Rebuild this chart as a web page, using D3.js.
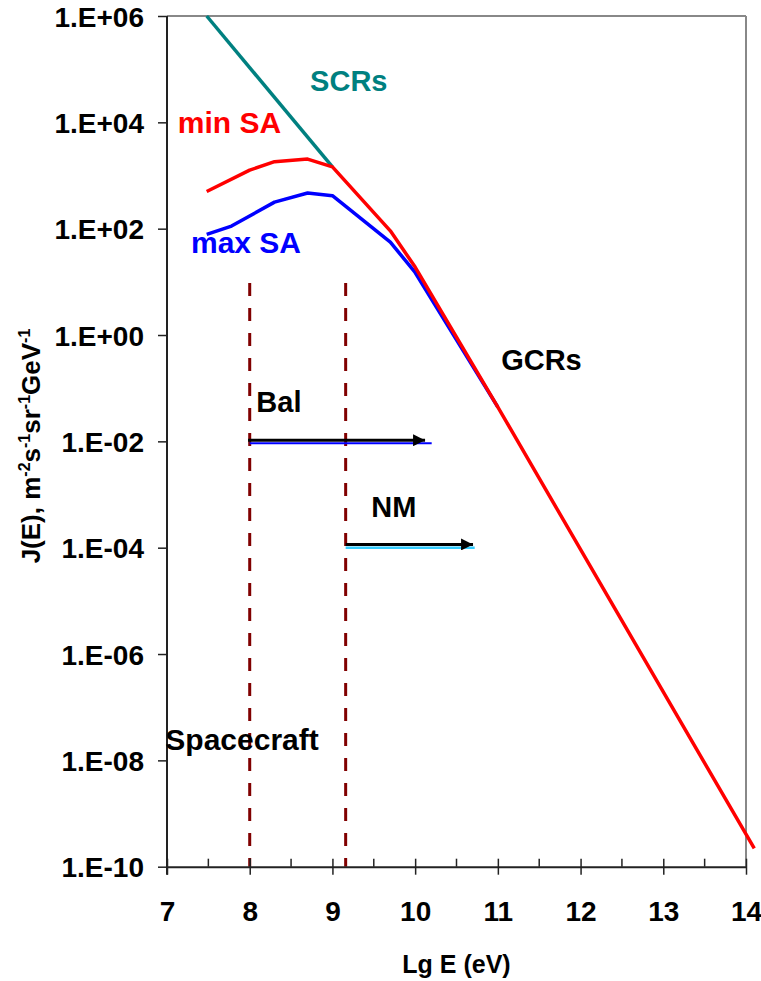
<!DOCTYPE html>
<html><head><meta charset="utf-8">
<script src="https://cdn.jsdelivr.net/npm/d3@7"></script>
<style>
html,body{margin:0;padding:0;background:#fff;}
svg text{font-family:"Liberation Sans",Arial,sans-serif;font-weight:bold;}
</style></head>
<body><svg id="c" width="761" height="981"></svg>
<script>
// ---- data ----
const scrX = [7.48, 9.0];
const scrY = [1e6, 1.45e3];
const minSAX = [7.48, 8.0, 8.3, 8.7, 9.0, 9.7, 10.0, 11.0, 14.1];
const minSAY = [5.0e2, 1.26e3, 1.82e3, 2.04e3, 1.45e3, 91, 19, 4.4e-2, 2.2e-10];
const maxSAX = [7.48, 7.78, 8.3, 8.7, 9.0, 9.7, 10.0, 11.0];
const maxSAY = [78, 112, 316, 468, 417, 56, 15, 4.4e-2];
const balX = [7.98, 10.12];   // Bal arrow
const balY = 1.05e-2;
const balLineX = [8.0, 10.2];
const balLineY = 9.2e-3;
const nmX = [9.16, 10.7];     // NM arrow
const nmY = 1.15e-4;
const nmLineX = [9.16, 10.72];
const nmLineY = 1.0e-4;
const cutoffX = [8.0, 9.16];  // dashed verticals
const cutoffTop = 9.5;
const xTicks = [7, 8, 9, 10, 11, 12, 13, 14];
const xMinor = [7.5, 8.5, 9.5, 10.5, 11.5, 12.5, 13.5];
const yTicks = [1e6, 1e4, 1e2, 1e0, 1e-2, 1e-4, 1e-6, 1e-8, 1e-10];
const yTickLabels = ["1.E+06","1.E+04","1.E+02","1.E+00","1.E-02","1.E-04","1.E-06","1.E-08","1.E-10"];
const labels = [
  {t:"SCRs", x:8.73, y:Math.pow(10,4.58), c:"#008080", s:29},
  {t:"min SA", x:7.13, y:Math.pow(10,3.80), c:"#ff0000", s:30},
  {t:"max SA", x:7.29, y:Math.pow(10,1.54), c:"#0000ff", s:30},
  {t:"Bal", x:8.08, y:Math.pow(10,-1.44), c:"#000", s:29},
  {t:"NM", x:9.47, y:Math.pow(10,-3.42), c:"#000", s:29},
  {t:"GCRs", x:11.04, y:Math.pow(10,-0.66), c:"#000", s:29},
  {t:"Spacecraft", x:6.98, y:Math.pow(10,-7.80), c:"#000", s:30}
];

// ---- chart ----
const svg = d3.select("#c");
const L = 167, R = 746, T = 16, B = 866.7;
const x = d3.scaleLinear().domain([7, 14]).range([L, R]);
const y = d3.scaleLog().domain([1e-10, 1e6]).range([B, T]);

// frame top/right
svg.append("line").attr("x1",L).attr("x2",R).attr("y1",T).attr("y2",T).attr("stroke","#888").attr("stroke-width",2);
svg.append("line").attr("x1",R).attr("x2",R).attr("y1",T).attr("y2",B).attr("stroke","#888").attr("stroke-width",2);

// dashed cutoffs
svg.selectAll(".cut").data(cutoffX).enter().append("line")
  .attr("x1",d=>x(d)).attr("x2",d=>x(d)).attr("y1",y(cutoffTop)).attr("y2",B)
  .attr("stroke","#800000").attr("stroke-width",3).attr("stroke-dasharray","13,12");

// axes
const yAxis = d3.axisLeft(y).tickValues(yTicks).tickSize(9).tickPadding(14)
  .tickFormat((d,i)=>yTickLabels[i]);
const gy = svg.append("g").attr("transform",`translate(${L},0)`).call(yAxis);
gy.select(".domain").attr("stroke","#222").attr("stroke-width",2).attr("d",`M0,${T}V${B+8}`);
gy.selectAll(".tick line").attr("stroke","#222").attr("stroke-width",1.5);
gy.selectAll(".tick text").attr("font-size",28).attr("fill","#000").attr("dy","0.36em")
  .style("font-family","'Liberation Sans',Arial,sans-serif").style("font-weight","bold");

const xAxis = d3.axisBottom(x).tickValues(xTicks).tickFormat(d3.format("d"))
  .tickSizeInner(8).tickSizeOuter(0).tickPadding(26);
const gx = svg.append("g").attr("transform",`translate(0,${B})`).call(xAxis);
gx.select(".domain").attr("stroke","#222").attr("stroke-width",2);
gx.selectAll(".tick line").attr("y1",-8).attr("stroke","#222").attr("stroke-width",1.5);
gx.selectAll(".tick text").attr("font-size",28).attr("fill","#000")
  .style("font-family","'Liberation Sans',Arial,sans-serif").style("font-weight","bold");
gx.selectAll(".minor").data(xMinor).enter().append("line").attr("class","minor")
  .attr("x1",d=>x(d)).attr("x2",d=>x(d)).attr("y1",-8).attr("y2",0)
  .attr("stroke","#222").attr("stroke-width",1.5);

// axis titles
svg.append("text").attr("x",(L+R)/2 - 0).attr("y",973).attr("text-anchor","middle")
  .attr("font-size",25).text("Lg E (eV)");
const yt = svg.append("text").attr("transform","translate(40,446) rotate(-90)")
  .attr("text-anchor","middle").attr("font-size",26);
yt.append("tspan").text("J(E), m");
yt.append("tspan").attr("font-size",16).attr("dy",-10).text("-2");
yt.append("tspan").attr("dy",10).text("s");
yt.append("tspan").attr("font-size",16).attr("dy",-10).text("-1");
yt.append("tspan").attr("dy",10).text("sr");
yt.append("tspan").attr("font-size",16).attr("dy",-10).text("-1");
yt.append("tspan").attr("dy",10).text("GeV");
yt.append("tspan").attr("font-size",16).attr("dy",-10).text("-1");

// series
const line = d3.line().x(d=>x(d[0])).y(d=>y(d[1]));
svg.append("path").datum(d3.zip(scrX,scrY)).attr("d",line)
  .attr("fill","none").attr("stroke","#008080").attr("stroke-width",3.5);
svg.append("path").datum(d3.zip(maxSAX,maxSAY)).attr("d",line)
  .attr("fill","none").attr("stroke","#0000ff").attr("stroke-width",3.5).attr("stroke-linejoin","round");
svg.append("path").datum(d3.zip(minSAX,minSAY)).attr("d",line)
  .attr("fill","none").attr("stroke","#ff0000").attr("stroke-width",3.5).attr("stroke-linejoin","round");

// range lines and arrows
svg.append("line").attr("x1",x(balLineX[0])).attr("x2",x(balLineX[1])).attr("y1",y(balLineY)).attr("y2",y(balLineY))
  .attr("stroke","#0000ff").attr("stroke-width",2);
svg.append("line").attr("x1",x(nmLineX[0])).attr("x2",x(nmLineX[1])).attr("y1",y(nmLineY)).attr("y2",y(nmLineY))
  .attr("stroke","#33ccff").attr("stroke-width",2.5);
const defs = svg.append("defs");
defs.append("marker").attr("id","ah").attr("viewBox","0 0 10 10").attr("refX",10).attr("refY",5)
  .attr("markerWidth",4.2).attr("markerHeight",4).attr("markerUnits","strokeWidth").attr("orient","auto")
  .append("path").attr("d","M0,0L10,5L0,10Z").attr("fill","#000");
[[balX,balY],[nmX,nmY]].forEach(([xs,v])=>{
  svg.append("line").attr("x1",x(xs[0])).attr("x2",x(xs[1])).attr("y1",y(v)).attr("y2",y(v))
    .attr("stroke","#000").attr("stroke-width",3).attr("marker-end","url(#ah)");
});

// labels
svg.selectAll(".lab").data(labels).enter().append("text").attr("class","lab")
  .attr("x",d=>x(d.x)).attr("y",d=>y(d.y)).attr("fill",d=>d.c).attr("font-size",d=>d.s).text(d=>d.t);
</script></body></html>
